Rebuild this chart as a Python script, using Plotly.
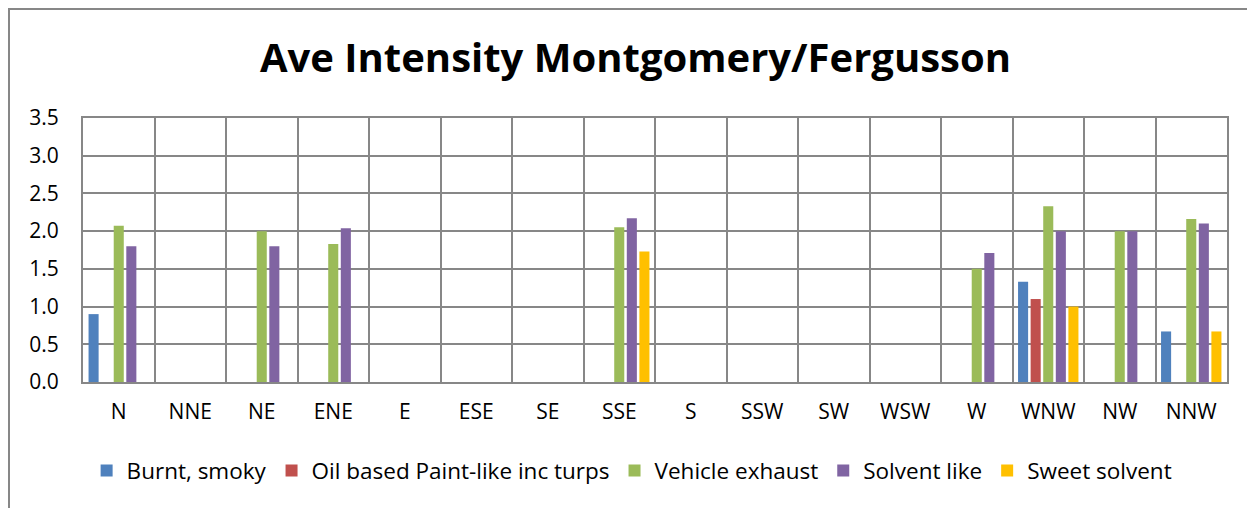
import plotly.graph_objects as go

categories = ["N", "NNE", "NE", "ENE", "E", "ESE", "SE", "SSE", "S", "SSW", "SW", "WSW", "W", "WNW", "NW", "NNW"]
burnt_smoky = [0.9, 0, 0, 0, 0, 0, 0, 0, 0, 0, 0, 0, 0, 1.33, 0, 0.67]
oil_paint = [0, 0, 0, 0, 0, 0, 0, 0, 0, 0, 0, 0, 0, 1.1, 0, 0]
vehicle_exhaust = [2.07, 0, 2.0, 1.83, 0, 0, 0, 2.05, 0, 0, 0, 0, 1.5, 2.33, 2.0, 2.16]
solvent_like = [1.8, 0, 1.8, 2.04, 0, 0, 0, 2.17, 0, 0, 0, 0, 1.71, 2.0, 2.0, 2.1]
sweet_solvent = [0, 0, 0, 0, 0, 0, 0, 1.73, 0, 0, 0, 0, 0, 1.0, 0, 0.67]
y_ticks = [0.0, 0.5, 1.0, 1.5, 2.0, 2.5, 3.0, 3.5]

series = [
    ("Burnt, smoky", burnt_smoky, "#4F81BD"),
    ("Oil based Paint-like inc turps", oil_paint, "#C0504D"),
    ("Vehicle exhaust", vehicle_exhaust, "#9BBB59"),
    ("Solvent like", solvent_like, "#8064A2"),
    ("Sweet solvent", sweet_solvent, "#FFC000"),
]

fig = go.Figure()
for name, vals, color in series:
    fig.add_trace(go.Bar(x=categories, y=vals, name=name, marker=dict(color=color, line=dict(width=0))))

font_family = "Open Sans, Liberation Sans, Arial, sans-serif"
fig.update_layout(
    width=1255, height=508,
    barmode="group", bargap=0.12, bargroupgap=0.2,
    paper_bgcolor="white", plot_bgcolor="white",
    margin=dict(l=75, r=36, t=110, b=134),
    title=dict(text="<b>Ave Intensity Montgomery/Fergusson</b>", x=0.5, xanchor="center",
               y=1 - 50/508, yanchor="middle", font=dict(family=font_family, size=40, color="black")),
    font=dict(family=font_family, size=21, color="black"),
    xaxis=dict(type="category", tickson="boundaries", showgrid=True, gridcolor="#878787", gridwidth=2,
               showline=True, linecolor="#878787", linewidth=2, mirror=True, ticks="",
               tickfont=dict(size=21), ticklabelstandoff=10),
    yaxis=dict(range=[0, 3.5], tickvals=y_ticks, ticktext=[f"{v:.1f}" for v in y_ticks],
               showgrid=True, gridcolor="#878787", gridwidth=2, zeroline=False,
               showline=True, linecolor="#878787", linewidth=2, mirror=True, ticks="",
               tickfont=dict(size=21), ticklabelstandoff=18),
    legend=dict(orientation="h", x=0.48, xanchor="center", y=-0.255, yanchor="top",
                font=dict(size=22.5), itemwidth=30, traceorder="normal"),
    showlegend=True,
)

# outer chart border
fig.add_shape(type="rect", xref="paper", yref="paper",
              x0=-74/1144, x1=1+21/1144, y0=-130/264, y1=1+109/264,
              line=dict(color="#878787", width=2), fillcolor="rgba(0,0,0,0)", layer="below")

fig.write_html("out.html")
